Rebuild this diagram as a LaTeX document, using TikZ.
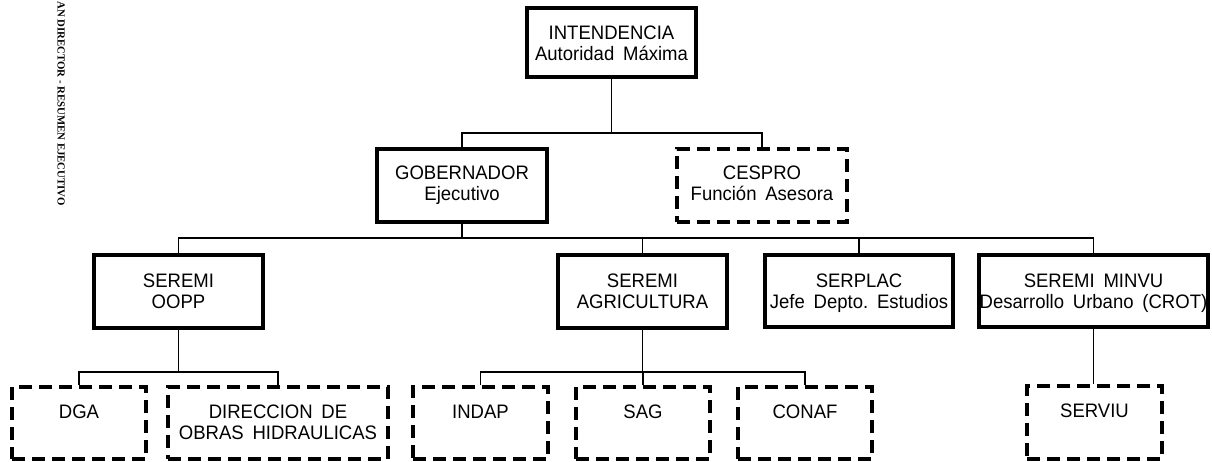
\documentclass[tikz,border=0pt]{standalone}
\usepackage{fontspec}
\setmainfont{Liberation Sans}[FakeStretch=0.95]
\newfontfamily\sidefont{Liberation Serif}
\newcommand{\ws}{\hspace{0.45em}}
\begin{document}
\begin{tikzpicture}[x=1pt,y=-1pt,
  boxbase/.style={draw, line width=3.1pt, inner sep=0pt, rectangle},
  solidbox/.style={boxbase},
  dashbox/.style={boxbase, dash pattern=on 13pt off 7pt},
  lbl/.style={inner sep=0pt, align=center, anchor=north, font=\fontsize{19.5}{21}\selectfont},
  conn/.style={line width=1.2pt}
]
\useasboundingbox (0,0) rectangle (1212,461);

% side text
\node[rotate=-90, anchor=west, inner sep=0pt, font=\sidefont\bfseries\fontsize{10.8}{12}\selectfont] (side) at (61,1) {AN DIRECTOR - RESUMEN EJECUTIVO};

% level 1
\node[solidbox, minimum width=169pt, minimum height=69pt] (int) at (611.5,42.5) {};
\node[lbl] (tint) at ([yshift=-19pt]int.north) {INTENDENCIA\\Autoridad\ws M\'axima};

% level 2
\node[solidbox, minimum width=170pt, minimum height=73pt] (gob) at (462,185.5) {};
\node[lbl] (tgob) at ([yshift=-18pt]gob.north) {GOBERNADOR\\Ejecutivo};
\node[dashbox, minimum width=170pt, minimum height=73pt] (ces) at (762,185.5) {};
\node[lbl] (tces) at ([yshift=-18pt]ces.north) {CESPRO\\Funci\'on\ws Asesora};

% level 3
\node[solidbox, minimum width=169pt, minimum height=73pt] (oopp) at (178.5,291.5) {};
\node[lbl] (toopp) at ([yshift=-20pt]oopp.north) {SEREMI\\OOPP};
\node[solidbox, minimum width=169pt, minimum height=73pt] (agr) at (642.5,291.5) {};
\node[lbl] (tagr) at ([yshift=-20pt]agr.north) {SEREMI\\AGRICULTURA};
\node[solidbox, minimum width=188pt, minimum height=72pt] (serp) at (859,291) {};
\node[lbl] (tserp) at ([yshift=-20pt]serp.north) {SERPLAC\\Jefe\ws Depto.\ws Estudios};
\node[solidbox, minimum width=229pt, minimum height=72pt] (minvu) at (1093.5,291) {};
\node[lbl] (tminvu) at ([yshift=-20pt]minvu.north) {SEREMI\ws MINVU\\Desarrollo\ws Urbano\ws (CROT)};

% level 4
\node[dashbox, minimum width=134pt, minimum height=72pt] (dga) at (79,423) {};
\node[lbl] (tdga) at ([yshift=-19pt]dga.north) {DGA};
\node[dashbox, minimum width=220pt, minimum height=72pt] (dir) at (278,423) {};
\node[lbl] (tdir) at ([yshift=-19pt]dir.north) {DIRECCION\ws DE\\OBRAS\ws HIDRAULICAS};
\node[dashbox, minimum width=135pt, minimum height=72pt] (indap) at (480.5,423) {};
\node[lbl] (tindap) at ([yshift=-19pt]indap.north) {INDAP};
\node[dashbox, minimum width=134pt, minimum height=72pt] (sag) at (643,423) {};
\node[lbl] (tsag) at ([yshift=-19pt]sag.north) {SAG};
\node[dashbox, minimum width=134pt, minimum height=72pt] (conaf) at (805,423) {};
\node[lbl] (tconaf) at ([yshift=-19pt]conaf.north) {CONAF};
\node[dashbox, minimum width=135pt, minimum height=73pt] (serviu) at (1094.5,422.5) {};
\node[lbl] (tserviu) at ([yshift=-19pt]serviu.north) {SERVIU};

% buses
\coordinate (bus1) at (611.5,133);
\coordinate (bus2) at (462,238);
\coordinate (bus3) at (178.5,372);
\coordinate (bus4) at (642.5,372);

% connectors
\draw[conn] (int.south) -- (bus1);
\draw[conn] (gob.north) |- (bus1) -| (ces.north);
\draw[conn] (gob.south) -- (bus2);
\draw[conn] (oopp.north) |- (bus2) -| (minvu.north);
\draw[conn] (agr.north) -- (agr.north |- bus2);
\draw[conn] (serp.north) -- (serp.north |- bus2);
\draw[conn] (oopp.south) -- (bus3);
\draw[conn] (dga.north) |- (bus3) -| (dir.north);
\draw[conn] (agr.south) -- (bus4);
\draw[conn] (indap.north) |- (bus4) -| (conaf.north);
\draw[conn] (sag.north) -- (sag.north |- bus4);
\draw[conn] (minvu.south) -- (minvu.south |- serviu.north);
\end{tikzpicture}
\end{document}
